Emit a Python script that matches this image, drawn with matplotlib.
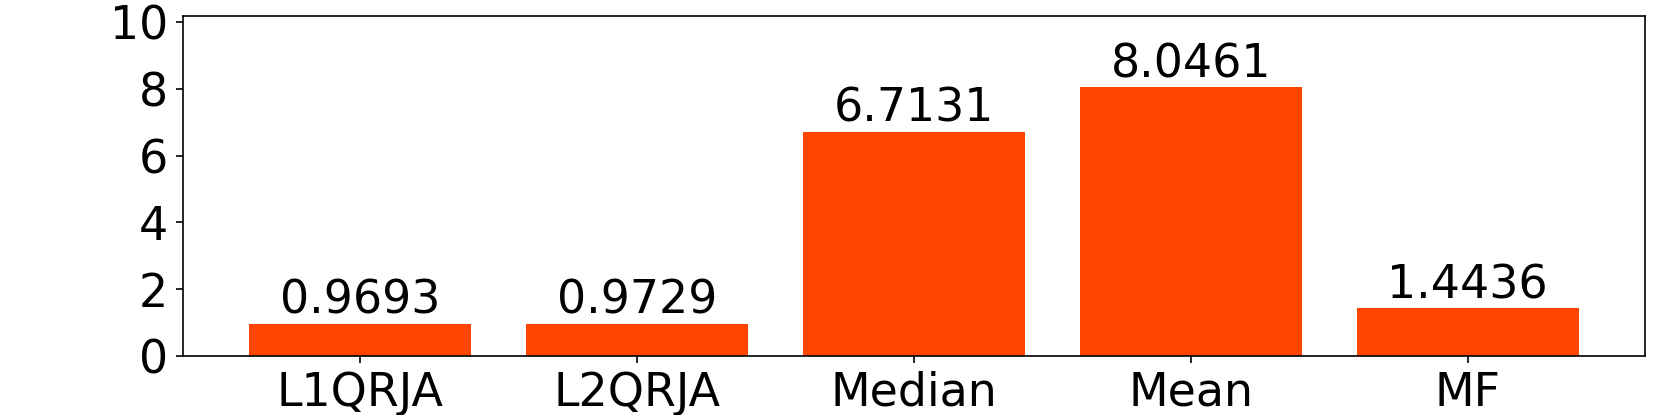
import matplotlib
matplotlib.use("Agg")
import matplotlib.pyplot as plt

categories = ["L1QRJA", "L2QRJA", "Median", "Mean", "MF"]
values = [0.9693, 0.9729, 6.7131, 8.0461, 1.4436]
labels = ["0.9693", "0.9729", "6.7131", "8.0461", "1.4436"]

fig = plt.figure(figsize=(1661/150, 415/150), dpi=150)
ax = fig.add_axes([0.110, 0.1414, 0.8804, 0.82])
x = range(len(categories))
bars = ax.bar(x, values, width=0.8, color="#FF4500")
for xi, v, lab in zip(x, values, labels):
    ax.text(xi, v, lab, ha="center", va="bottom", fontsize=22)
ax.set_xticks(list(x))
ax.set_xticklabels(categories, fontsize=22)
ax.set_yticks([0, 2, 4, 6, 8, 10])
ax.tick_params(axis="y", labelsize=22)
ax.set_ylim(0, 10.17)
fig.savefig("out.png", dpi=150)
